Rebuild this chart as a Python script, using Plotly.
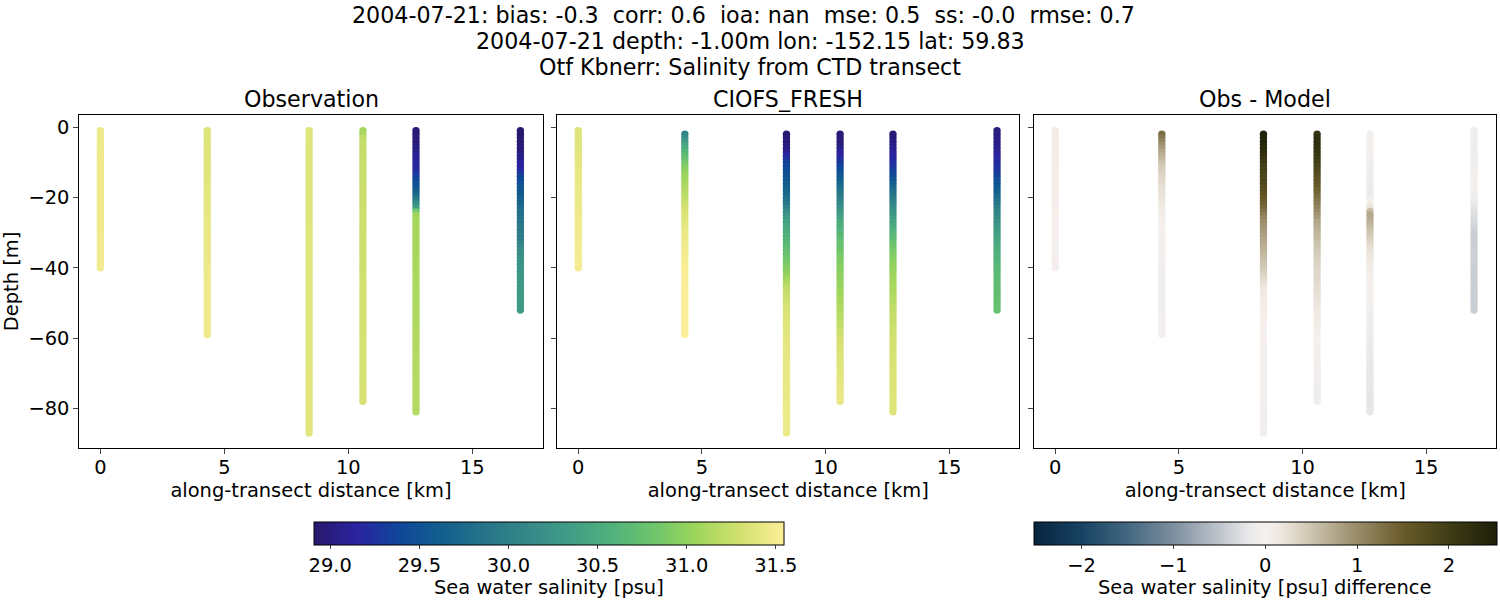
import plotly.graph_objects as go
from plotly.subplots import make_subplots

# depth bins of the CTD casts, metres
depths = [
    -1, -2, -3, -4, -5, -6, -7, -8, -9, -10, -11, -12, -13, -14, -15, -16, -17, -18, -19, -20,
    -21, -22, -23, -24, -25, -26, -27, -28, -29, -30, -31, -32, -33, -34, -35, -36, -37, -38, -39, -40,
    -41, -42, -43, -44, -45, -46, -47, -48, -49, -50, -51, -52, -53, -54, -55, -56, -57, -58, -59, -60,
    -61, -62, -63, -64, -65, -66, -67, -68, -69, -70, -71, -72, -73, -74, -75, -76, -77, -78, -79, -80,
    -81, -82, -83, -84, -85, -86, -87,
]
distance = [0.0, 4.31, 8.42, 10.59, 12.73, 16.94]

# observed salinity, one list per cast
obs_0 = [
    31.46, 31.46, 31.46, 31.46, 31.46, 31.46, 31.46, 31.46, 31.46, 31.46,
    31.47, 31.47, 31.47, 31.47, 31.47, 31.47, 31.47, 31.47, 31.47, 31.47,
    31.47, 31.47, 31.47, 31.47, 31.47, 31.47, 31.47, 31.47, 31.47, 31.47,
    31.48, 31.48, 31.48, 31.48, 31.48, 31.48, 31.48, 31.48, 31.48, 31.48,
]
obs_1 = [
    31.36, 31.36, 31.36, 31.36, 31.36, 31.37, 31.37, 31.37, 31.37, 31.38,
    31.38, 31.38, 31.38, 31.39, 31.39, 31.39, 31.39, 31.40, 31.40, 31.40,
    31.40, 31.41, 31.41, 31.41, 31.41, 31.42, 31.42, 31.42, 31.42, 31.43,
    31.43, 31.43, 31.43, 31.44, 31.44, 31.44, 31.44, 31.44, 31.45, 31.45,
    31.45, 31.45, 31.45, 31.45, 31.46, 31.46, 31.46, 31.46, 31.46, 31.46,
    31.46, 31.46, 31.47, 31.47, 31.47, 31.47, 31.47, 31.47, 31.47,
]
obs_2 = [
    31.37, 31.37, 31.37, 31.37, 31.37, 31.37, 31.37, 31.37, 31.37, 31.37,
    31.37, 31.37, 31.37, 31.37, 31.37, 31.37, 31.37, 31.37, 31.37, 31.37,
    31.37, 31.37, 31.37, 31.37, 31.37, 31.37, 31.37, 31.37, 31.37, 31.38,
    31.38, 31.38, 31.38, 31.38, 31.38, 31.38, 31.38, 31.38, 31.38, 31.38,
    31.38, 31.38, 31.38, 31.38, 31.38, 31.38, 31.38, 31.38, 31.38, 31.38,
    31.38, 31.38, 31.38, 31.38, 31.38, 31.38, 31.38, 31.38, 31.38, 31.38,
    31.38, 31.38, 31.38, 31.38, 31.38, 31.38, 31.38, 31.38, 31.38, 31.38,
    31.39, 31.39, 31.39, 31.39, 31.39, 31.39, 31.39, 31.39, 31.39, 31.39,
    31.39, 31.39, 31.39, 31.39, 31.39, 31.39, 31.39,
]
obs_3 = [
    31.09, 31.10, 31.20, 31.23, 31.24, 31.24, 31.24, 31.24, 31.24, 31.25,
    31.25, 31.25, 31.25, 31.25, 31.25, 31.25, 31.26, 31.26, 31.26, 31.26,
    31.26, 31.26, 31.26, 31.27, 31.27, 31.27, 31.27, 31.27, 31.27, 31.27,
    31.28, 31.28, 31.28, 31.28, 31.28, 31.28, 31.29, 31.29, 31.29, 31.29,
    31.29, 31.29, 31.29, 31.30, 31.30, 31.30, 31.30, 31.30, 31.30, 31.30,
    31.30, 31.31, 31.31, 31.31, 31.31, 31.31, 31.31, 31.31, 31.31, 31.31,
    31.32, 31.32, 31.32, 31.32, 31.32, 31.32, 31.32, 31.32, 31.32, 31.32,
    31.32, 31.32, 31.33, 31.33, 31.33, 31.33, 31.33, 31.33,
]
obs_4 = [
    28.95, 28.96, 28.97, 28.98, 29.00, 29.02, 29.05, 29.08, 29.11, 29.14,
    29.17, 29.20, 29.25, 29.30, 29.38, 29.45, 29.52, 29.60, 29.66, 29.80,
    30.00, 30.15, 30.35, 30.80, 31.04, 31.07, 31.08, 31.09, 31.09, 31.09,
    31.09, 31.10, 31.10, 31.10, 31.10, 31.10, 31.10, 31.11, 31.11, 31.11,
    31.11, 31.11, 31.11, 31.12, 31.12, 31.12, 31.12, 31.12, 31.12, 31.12,
    31.13, 31.13, 31.13, 31.13, 31.13, 31.13, 31.13, 31.14, 31.14, 31.14,
    31.14, 31.14, 31.14, 31.14, 31.15, 31.15, 31.15, 31.15, 31.15, 31.15,
    31.15, 31.15, 31.16, 31.16, 31.16, 31.16, 31.16, 31.16, 31.16, 31.16,
    31.16,
]
obs_5 = [
    28.91, 28.92, 28.93, 28.94, 28.95, 28.97, 29.00, 29.03, 29.07, 29.10,
    29.13, 29.16, 29.25, 29.34, 29.42, 29.47, 29.51, 29.55, 29.58, 29.62,
    29.67, 29.71, 29.76, 29.80, 29.83, 29.86, 29.89, 29.91, 29.93, 29.95,
    29.97, 30.00, 30.05, 30.10, 30.15, 30.18, 30.20, 30.22, 30.23, 30.24,
    30.25, 30.26, 30.27, 30.28, 30.29, 30.29, 30.30, 30.31, 30.31, 30.32,
    30.33, 30.33,
]

# modelled salinity, None where the model has no bin at that depth
model_0 = [
    31.36, 31.36, 31.37, 31.37, 31.38, 31.38, 31.39, 31.39, 31.40, 31.40,
    31.41, 31.41, 31.42, 31.42, 31.42, 31.43, 31.43, 31.44, 31.44, 31.44,
    31.45, 31.45, 31.45, 31.46, 31.46, 31.46, 31.47, 31.47, 31.47, 31.48,
    31.48, 31.48, 31.49, 31.49, 31.49, 31.49, 31.50, 31.50, 31.50, 31.50,
]
model_1 = [
    None, 30.05, 30.15, 30.27, 30.40, 30.50, 30.60, 30.67, 30.74, 30.82,
    30.90, 30.95, 31.00, 31.04, 31.07, 31.10, 31.13, 31.16, 31.18, 31.20,
    31.23, 31.26, 31.30, 31.32, 31.34, 31.36, 31.38, 31.40, 31.41, 31.43,
    31.44, 31.45, 31.46, 31.47, 31.48, 31.49, 31.50, 31.51, 31.52, 31.52,
    31.53, 31.53, 31.53, 31.54, 31.54, 31.54, 31.54, 31.54, 31.54, 31.54,
    31.54, 31.54, 31.54, 31.54, 31.54, 31.54, 31.54, 31.54, 31.54,
]
model_2 = [
    None, 28.95, 28.96, 28.97, 28.99, 29.02, 29.06, 29.15, 29.24, 29.32,
    29.38, 29.42, 29.46, 29.50, 29.54, 29.58, 29.62, 29.67, 29.72, 29.78,
    29.85, 29.93, 30.02, 30.12, 30.22, 30.32, 30.38, 30.44, 30.48, 30.52,
    30.56, 30.60, 30.64, 30.68, 30.72, 30.76, 30.80, 30.84, 30.88, 30.92,
    30.96, 31.00, 31.06, 31.12, 31.17, 31.21, 31.24, 31.26, 31.28, 31.30,
    31.32, 31.33, 31.34, 31.35, 31.36, 31.37, 31.38, 31.38, 31.39, 31.39,
    31.40, 31.40, 31.41, 31.41, 31.41, 31.42, 31.42, 31.42, 31.43, 31.43,
    31.43, 31.43, 31.43, 31.44, 31.44, 31.44, 31.44, 31.44, 31.44, 31.45,
    31.45, 31.45, 31.45, 31.45, 31.45, 31.45, 31.45,
]
model_3 = [
    None, 28.96, 28.97, 28.98, 29.00, 29.04, 29.09, 29.14, 29.20, 29.27,
    29.33, 29.40, 29.47, 29.53, 29.60, 29.67, 29.74, 29.81, 29.88, 29.95,
    30.03, 30.11, 30.18, 30.26, 30.33, 30.40, 30.50, 30.54, 30.58, 30.62,
    30.66, 30.70, 30.75, 30.78, 30.81, 30.84, 30.87, 30.90, 30.92, 30.94,
    30.96, 30.98, 30.99, 31.00, 31.02, 31.03, 31.05, 31.07, 31.08, 31.10,
    31.12, 31.14, 31.16, 31.18, 31.20, 31.22, 31.24, 31.26, 31.28, 31.30,
    31.31, 31.32, 31.33, 31.34, 31.35, 31.36, 31.37, 31.38, 31.38, 31.39,
    31.39, 31.40, 31.40, 31.41, 31.41, 31.41, 31.42, 31.42,
]
model_4 = [
    None, 28.97, 28.98, 29.00, 29.03, 29.06, 29.10, 29.14, 29.17, 29.20,
    29.25, 29.30, 29.35, 29.43, 29.52, 29.60, 29.68, 29.76, 29.84, 29.92,
    30.00, 30.07, 30.14, 30.21, 30.28, 30.35, 30.41, 30.47, 30.53, 30.60,
    30.65, 30.71, 30.77, 30.82, 30.86, 30.89, 30.92, 30.95, 30.98, 31.00,
    31.02, 31.04, 31.06, 31.08, 31.10, 31.12, 31.13, 31.15, 31.16, 31.17,
    31.19, 31.21, 31.22, 31.23, 31.24, 31.25, 31.26, 31.27, 31.28, 31.29,
    31.30, 31.31, 31.31, 31.32, 31.32, 31.33, 31.33, 31.34, 31.34, 31.34,
    31.35, 31.35, 31.35, 31.35, 31.35, 31.36, 31.36, 31.36, 31.36, 31.36,
    31.36,
]
model_5 = [
    29.00, 29.01, 29.02, 29.03, 29.05, 29.07, 29.10, 29.13, 29.16, 29.19,
    29.22, 29.25, 29.30, 29.37, 29.44, 29.50, 29.55, 29.60, 29.66, 29.74,
    29.82, 29.90, 29.98, 30.05, 30.10, 30.15, 30.20, 30.25, 30.30, 30.35,
    30.39, 30.43, 30.47, 30.51, 30.55, 30.57, 30.59, 30.61, 30.63, 30.65,
    30.67, 30.69, 30.70, 30.71, 30.71, 30.72, 30.73, 30.73, 30.74, 30.74,
    30.75, 30.75,
]

obs_casts = [obs_0, obs_1, obs_2, obs_3, obs_4, obs_5]
model_casts = [model_0, model_1, model_2, model_3, model_4, model_5]

sal_range = [28.91, 31.547]
diff_range = [-2.52, 2.52]
diff_colors = [
    [0.0, "rgb(8,36,62)"],
    [0.1, "rgb(22,66,98)"],
    [0.2, "rgb(66,102,128)"],
    [0.3, "rgb(124,142,158)"],
    [0.4, "rgb(190,196,204)"],
    [0.47, "rgb(236,236,236)"],
    [0.5, "rgb(245,240,237)"],
    [0.53, "rgb(240,233,226)"],
    [0.6, "rgb(205,196,175)"],
    [0.7, "rgb(152,138,104)"],
    [0.8, "rgb(104,90,40)"],
    [0.9, "rgb(62,60,22)"],
    [1.0, "rgb(28,30,8)"],
]

font = "DejaVu Sans"
black = "#000000"
label_size = 19.44
title_size = 22.2

fig = make_subplots(rows=1, cols=3)


def add_panel(col, casts, axis_name):
    xs, ys, cs = [], [], []
    for dist, vals in zip(distance, casts):
        for depth, val in zip(depths, vals):
            if val is None:
                continue
            xs.append(dist)
            ys.append(depth)
            cs.append(val)
    fig.add_trace(
        go.Scatter(
            x=xs,
            y=ys,
            mode="markers",
            showlegend=False,
            marker=dict(size=7.4, color=cs, coloraxis=axis_name, line=dict(width=0)),
        ),
        row=1,
        col=col,
    )


# Obs - Model is what the third panel shows
diff_casts = []
for ob, mod in zip(obs_casts, model_casts):
    diff_casts.append([None if m is None else o - m for o, m in zip(ob, mod)])

add_panel(1, obs_casts, "coloraxis")
add_panel(2, model_casts, "coloraxis")
add_panel(3, diff_casts, "coloraxis2")

# panel edges in pixels of the 1500x600 page
panels = [(79.3, 542.7), (557.3, 1019.3), (1034.3, 1496.3)]
for i, (left, right) in enumerate(panels, start=1):
    fig.update_xaxes(
        domain=[left / 1500, right / 1500],
        range=[-0.85, 17.84],
        tickvals=[0, 5, 10, 15],
        ticks="outside",
        ticklen=5,
        tickwidth=1,
        ticklabelstandoff=-3,
        showgrid=False,
        zeroline=False,
        showline=True,
        mirror=True,
        linecolor=black,
        linewidth=1,
        tickfont=dict(family=font, size=label_size, color=black),
        title=dict(text="along-transect distance [km]", font=dict(family=font, size=label_size, color=black), standoff=5),
        row=1,
        col=i,
    )
    fig.update_yaxes(
        domain=[1 - 448 / 600, 1 - 115 / 600],
        range=[-91.3, 3.5],
        tickvals=[0, -20, -40, -60, -80],
        ticktext=["0", "\u221220", "\u221240", "\u221260", "\u221280"],
        ticks="outside",
        ticklen=5,
        tickwidth=1,
        showticklabels=i == 1,
        showgrid=False,
        zeroline=False,
        showline=True,
        mirror=True,
        linecolor=black,
        linewidth=1,
        tickfont=dict(family=font, size=label_size, color=black),
        row=1,
        col=i,
    )
fig.update_yaxes(title=dict(text="Depth [m]", font=dict(family=font, size=label_size, color=black), standoff=4), row=1, col=1)

panel_titles = ["Observation", "CIOFS_FRESH", "Obs - Model"]
for (left, right), text in zip(panels, panel_titles):
    fig.add_annotation(
        text=text,
        xref="paper",
        yref="paper",
        x=(left + right) / 2 / 1500,
        y=1 - 99 / 600,
        xanchor="center",
        yanchor="middle",
        showarrow=False,
        font=dict(family=font, size=title_size, color=black),
    )

# three line heading, each line placed on its own
heading = [
    "2004-07-21: bias: -0.3  corr: 0.6  ioa: nan  mse: 0.5  ss: -0.0  rmse: 0.7  ",
    "2004-07-21 depth: -1.00m lon: -152.15 lat: 59.83",
    "Otf Kbnerr: Salinity from CTD transect",
]
for text, y_px in zip(heading, [15, 41, 67]):
    fig.add_annotation(
        text=text.replace(" ", "\u00a0"),
        xref="paper",
        yref="paper",
        x=0.5,
        y=1 - y_px / 600,
        xanchor="center",
        yanchor="middle",
        showarrow=False,
        font=dict(family=font, size=title_size, color=black),
    )

# colorbar titles sit too low when plotly places them, so they are annotations
for text, x_px in [("Sea water salinity [psu]", 549.2), ("Sea water salinity [psu] difference", 1265.2)]:
    fig.add_annotation(
        text=text,
        xref="paper",
        yref="paper",
        x=x_px / 1500,
        y=1 - 587 / 600,
        xanchor="center",
        yanchor="middle",
        showarrow=False,
        font=dict(family=font, size=label_size, color=black),
    )

fig.update_layout(
    width=1500,
    height=600,
    margin=dict(l=0, r=0, t=0, b=0, autoexpand=False),
    paper_bgcolor="white",
    plot_bgcolor="white",
    coloraxis=dict(
        colorscale="haline",
        cmin=sal_range[0],
        cmax=sal_range[1],
        colorbar=dict(
            orientation="h",
            lenmode="pixels",
            len=470.3,
            thickness=23,
            x=549.2 / 1500,
            xanchor="center",
            y=1 - 521.7 / 600,
            yanchor="top",
            xpad=0,
            ypad=0,
            tickvals=[29.0, 29.5, 30.0, 30.5, 31.0, 31.5],
            ticktext=["29.0", "29.5", "30.0", "30.5", "31.0", "31.5"],
            ticks="outside",
            ticklen=4,
            tickwidth=1,
            outlinewidth=1,
            outlinecolor=black,
            tickfont=dict(family=font, size=label_size, color=black),
        ),
    ),
    coloraxis2=dict(
        colorscale=diff_colors,
        cmin=diff_range[0],
        cmax=diff_range[1],
        colorbar=dict(
            orientation="h",
            lenmode="pixels",
            len=462.5,
            thickness=23,
            x=1265.2 / 1500,
            xanchor="center",
            y=1 - 521.7 / 600,
            yanchor="top",
            xpad=0,
            ypad=0,
            tickvals=[-2, -1, 0, 1, 2],
            ticktext=["\u22122", "\u22121", "0", "1", "2"],
            ticks="outside",
            ticklen=4,
            tickwidth=1,
            outlinewidth=1,
            outlinecolor=black,
            tickfont=dict(family=font, size=label_size, color=black),
        ),
    ),
)

# the page's default body margin would push the figure 8px off
fig.write_html("out.html", config={"displayModeBar": False}, post_script="document.body.style.margin = '0';")
